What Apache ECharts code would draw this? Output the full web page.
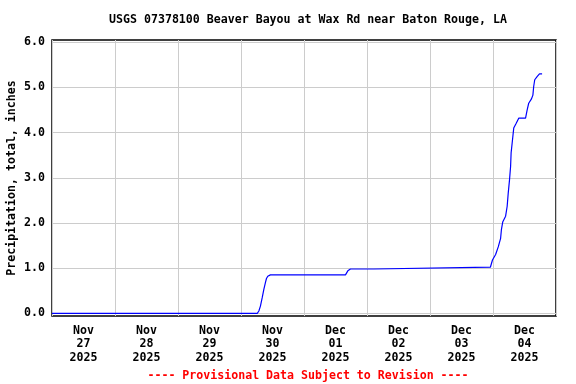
<!DOCTYPE html>
<html><head><meta charset="utf-8">
<script src="https://cdn.jsdelivr.net/npm/echarts@6/dist/echarts.min.js"></script>
<style>html,body{margin:0;padding:0;background:#fff}#c{width:576px;height:384px}</style>
</head><body><div id="c"></div>
<script>
// Hours since 2025-11-27 00:00 (local)
var hours = [0, 78.2, 78.8, 79.4, 80.1, 80.7, 81.3, 81.7, 82.2, 83.2, 111.8, 112.2, 112.7, 113.7, 122.6, 123.2,
  167.0, 167.8, 169.0, 170.0, 170.9, 171.2, 171.7, 172.8, 173.4, 173.8, 174.3, 174.7, 174.9, 175.3, 175.9,
  176.7, 177.8, 180.4, 181.0, 181.6, 182.6, 183.2, 183.5, 183.9, 184.8, 185.7, 186.7];
var precip = [0, 0, 0.05, 0.16, 0.35, 0.53, 0.68, 0.77, 0.82, 0.85, 0.85, 0.89, 0.94, 0.98, 0.98, 1.02,
  1.02, 1.18, 1.30, 1.47, 1.66, 1.85, 2.02, 2.15, 2.37, 2.66, 2.96, 3.25, 3.55, 3.77, 4.10,
  4.19, 4.32, 4.32, 4.50, 4.65, 4.74, 4.83, 5.02, 5.17, 5.24, 5.30, 5.30];
var dayLabelHours = [12, 36, 60, 84, 108, 132, 156, 180];
var dayLabels = ["Nov\n27\n2025", "Nov\n28\n2025", "Nov\n29\n2025", "Nov\n30\n2025",
  "Dec\n01\n2025", "Dec\n02\n2025", "Dec\n03\n2025", "Dec\n04\n2025"];
var yTicks = [0, 1, 2, 3, 4, 5, 6];
var yTickLabels = ["0.0", "1.0", "2.0", "3.0", "4.0", "5.0", "6.0"];
var titleText = "USGS 07378100 Beaver Bayou at Wax Rd near Baton Rouge, LA";
var yName = "Precipitation, total, inches";
var footText = "---- Provisional Data Subject to Revision ----";

var FONT = "'DejaVu Sans Mono', 'Liberation Mono', monospace";
var chart = echarts.init(document.getElementById('c'), null, {renderer: 'canvas'});
var seriesData = hours.map(function (h, i) { return [h, precip[i]]; });
chart.setOption({
  animation: false,
  backgroundColor: '#fff',
  title: [{
    text: titleText, left: 303, top: 9, textAlign: 'center',
    textStyle: {fontFamily: FONT, fontSize: 11.6, fontWeight: 'bold', color: '#000'}
  }, {
    text: footText, left: 303, top: 365, textAlign: 'center',
    textStyle: {fontFamily: FONT, fontSize: 11.6, fontWeight: 'bold', color: '#ff0000'}
  }],
  grid: {left: 52, right: 20, top: 40, bottom: 68, show: true, borderColor: '#000', borderWidth: 1.5,
    backgroundColor: 'transparent', containLabel: false, outerBoundsMode: 'none'},
  xAxis: {
    type: 'value', min: 0, max: 192, interval: 24,
    axisLine: {show: false}, axisTick: {show: false},
    splitLine: {show: true, lineStyle: {color: '#cccccc', width: 1}},
    axisLabel: {
      customValues: dayLabelHours,
      formatter: function (v) { var i = dayLabelHours.indexOf(v); return i >= 0 ? dayLabels[i] : ''; },
      fontFamily: FONT, fontSize: 11.6, fontWeight: 'bold', color: '#000', lineHeight: 13.5, margin: 8
    }
  },
  yAxis: {
    type: 'value', min: -0.06, max: 6.05,
    name: yName, nameLocation: 'middle', nameRotate: 90, nameGap: 40, nameMoveOverlap: false,
    nameTextStyle: {fontFamily: FONT, fontSize: 11.6, fontWeight: 'bold', color: '#000', verticalAlign: 'middle'},
    axisLine: {show: false},
    axisTick: {show: false, customValues: yTicks},
    splitLine: {show: true, lineStyle: {color: '#cccccc', width: 1}},
    axisLabel: {
      customValues: yTicks,
      formatter: function (v) { var i = yTicks.indexOf(Math.round(v)); return i >= 0 ? yTickLabels[i] : ''; },
      fontFamily: FONT, fontSize: 11.6, fontWeight: 'bold', color: '#000', margin: 7
    }
  },
  series: [{
    type: 'line', data: seriesData, showSymbol: false, symbol: 'none',
    lineStyle: {color: '#0000ff', width: 1.2}, z: 3
  }]
});
</script></body></html>
